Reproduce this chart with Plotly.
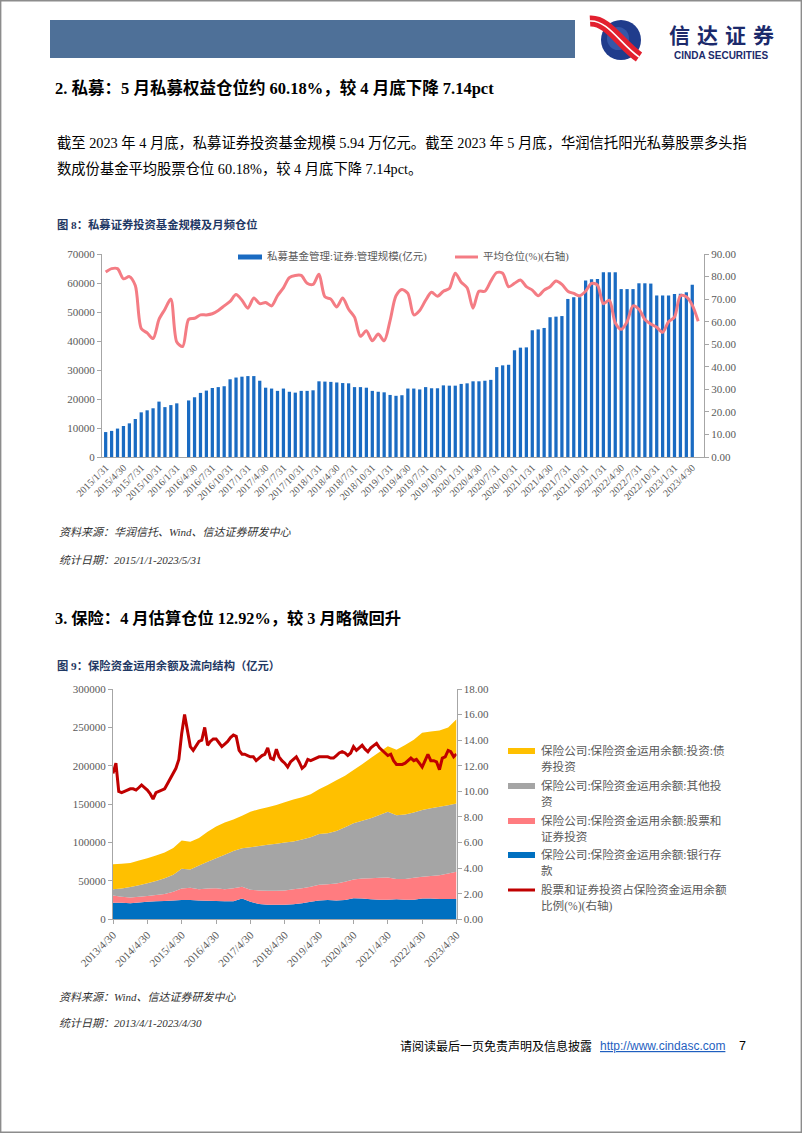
import calendar
import plotly.graph_objects as go

W, H = 802, 1133
FONT = "Liberation Serif, Noto Sans CJK SC, serif"
GRAY_TXT = "#595959"
AXIS_COL = "#A6A6A6"

# ---------------- Figure 8 data ----------------
def month_ends(y0, m0, y1, m1):
    out = []
    y, m = y0, m0
    while (y, m) <= (y1, m1):
        out.append((y, m, calendar.monthrange(y, m)[1]))
        m += 1
        if m > 12:
            m = 1
            y += 1
    return out

pm_months = month_ends(2015, 1, 2023, 5)
pm_categories = [f"{y}/{m}/{d}" for y, m, d in pm_months]

pm_scale = [
    8600, 9000, 9800, 10700, 11600, 13100, 15400, 16100, 16800, 19100,
    17200, 17900, 18500, None, 19500, 20600, 22100, 22900, 23800, 24100,
    24400, 26800, 27400, 27700, 27900, 27900, 26300, 23900, 23600, 22800,
    23600, 22500, 22200, 22800, 22800, 23000, 26100, 26000, 25900, 25700,
    25500, 25400, 24100, 24100, 23900, 22800, 22500, 22300, 21400, 21100,
    21300, 23600, 23600, 23300, 24100, 23700, 23700, 24700, 24600, 24600,
    25200, 25400, 26100, 26100, 26300, 26600, 31000, 31600, 31800, 36800,
    37700, 37800, 43700, 44000, 44500, 48200, 48400, 48600, 54500, 55100,
    55100, 60900, 61300, 61400, 63700, 63700, 63700, 57900, 57900, 57900,
    59900, 59900, 59800, 55700, 55700, 55700, 56200, 56300, 56800, 59400,
    None,
]

pm_position = [
    82.0, 83.5, 83.5, 79.0, 80.0, 76.0, 57.0, 55.0, 52.5, 61.0,
    65.5, 70.0, 51.0, 49.0, 61.0, 61.5, 63.0, 63.0, 63.5, 65.0,
    67.0, 69.0, 72.0, 69.5, 66.0, 70.5, 68.0, 68.5, 67.0, 71.5,
    75.0, 79.5, 80.5, 80.5, 77.0, 76.5, 81.0, 71.0, 70.0, 66.5,
    70.5, 65.5, 62.0, 53.5, 56.0, 51.5, 54.5, 51.5, 60.5, 71.5,
    74.3, 72.5, 63.0, 65.0, 69.5, 73.0, 71.3, 73.5, 74.7, 81.5,
    77.5, 75.0, 66.0, 73.5, 73.5, 78.0, 81.8, 81.5, 75.5, 77.0,
    78.5, 75.5, 74.0, 71.5, 74.0, 75.5, 78.0, 76.5, 73.5, 72.5,
    71.5, 73.5, 77.0, 76.2, 68.0, 69.5, 59.5, 56.6, 60.0, 67.0,
    65.5, 61.0, 59.0, 57.5, 55.3, 60.0, 62.0, 71.5, 71.0, 67.32,
    60.18,
]

pm_left_ticks = [0, 10000, 20000, 30000, 40000, 50000, 60000, 70000]
pm_right_ticks = [0, 10, 20, 30, 40, 50, 60, 70, 80, 90]

# ---------------- Figure 9 data ----------------
ins_months = month_ends(2013, 4, 2023, 4)
ins_dates = [f"{y:04d}-{m:02d}-{d:02d}" for y, m, d in ins_months]
ins_q_dates = ins_dates[::3]

ins_bank = [
    21700, 21500, 21000, 22000, 23000, 23500, 24000, 24500, 25200, 25000,
    24500, 24300, 24000, 23500, 23500, 27000, 23000, 19800, 19000, 18800,
    19000, 19500, 21000, 23000, 24500, 25000, 24500, 25000, 27500, 27000,
    26000, 25500, 25500, 26000, 25500, 25500, 27000, 27000, 26500, 26500,
    26500,
]
ins_stock = [
    9300, 8000, 7500, 7500, 7400, 8000, 9000, 11500, 14800, 16000,
    14500, 15700, 16400, 15500, 17000, 15500, 15500, 17700, 18300, 18500,
    18500, 19500, 19500, 19500, 20500, 20500, 22000, 24000, 24500, 26000,
    27500, 28500, 29000, 26500, 27000, 28500, 28500, 29500, 31000, 33000,
    35500,
]
ins_other = [
    8000, 10500, 13500, 15000, 16600, 18500, 20500, 22000, 26000, 24000,
    31000, 35000, 39100, 45000, 48500, 50000, 55500, 58000, 59700, 61200,
    62500, 62500, 63500, 64500, 66000, 66500, 68500, 71000, 73000, 75500,
    78000, 82000, 85500, 83000, 84000, 85000, 87000, 88000, 89000, 89000,
    89000,
]
ins_bond = [
    32600, 32500, 31500, 32000, 32500, 33000, 33500, 35000, 36500, 36000,
    36000, 39000, 41500, 42000, 41000, 42500, 46000, 48000, 49000, 50500,
    52500, 54500, 55000, 56000, 58500, 63000, 66000, 67000, 69500, 73500,
    78500, 82000, 85500, 85500, 90500, 95000, 100500, 100000, 99500, 101500,
    109500,
]
ins_ratio = [
    11.4, 12.2, 10.0, 9.9, 10.0, 10.1, 10.2, 10.2, 10.1, 10.3,
    10.5, 10.3, 10.1, 9.8, 9.4, 9.9, 10.0, 10.05, 10.2, 10.6,
    11.0, 11.4, 11.8, 12.5, 14.5, 16.0, 14.7, 13.5, 13.2, 13.5,
    13.9, 14.0, 15.0, 13.6, 13.9, 14.1, 14.1, 13.8, 13.5, 13.7,
    13.9, 14.2, 14.4, 14.3, 13.2, 12.9, 12.9, 12.8, 12.7, 12.7,
    12.4, 12.6, 12.8, 12.9, 13.4, 12.6, 12.5, 13.3, 12.7, 12.4,
    12.2, 11.9, 12.3, 12.5, 12.7, 12.3, 11.8, 12.0, 12.5, 12.4,
    12.5, 12.6, 12.7, 12.7, 12.7, 12.7, 12.6, 12.6, 12.8, 13.0,
    13.1, 13.0, 12.8, 13.0, 13.5, 13.2, 13.4, 13.6, 13.3, 13.1,
    13.4, 13.6, 13.75, 13.4, 13.2, 13.0, 12.8, 12.9, 12.4, 12.1,
    12.1, 12.1, 12.2, 12.4, 12.6, 12.4, 12.5, 12.2, 11.9, 12.4,
    12.9, 12.4, 12.4, 12.3, 11.7, 12.6, 12.7, 13.2, 13.1, 12.7,
    12.92,
]
ins_tick_dates = [f"{y}-04-30" for y in range(2013, 2024)]
ins_tick_labels = [f"{y}/4/30" for y in range(2013, 2024)]
ins_left_ticks = [0, 50000, 100000, 150000, 200000, 250000, 300000]
ins_right_ticks = [0, 2, 4, 6, 8, 10, 12, 14, 16, 18]

ins_names = [
    "保险公司:保险资金运用余额:投资:债券投资",
    "保险公司:保险资金运用余额:其他投资",
    "保险公司:保险资金运用余额:股票和证券投资",
    "保险公司:保险资金运用余额:银行存款",
    "股票和证券投资占保险资金运用余额比例(%)(右轴)",
]

# ---------------- helpers ----------------
def px(x):
    return x / W

def py(y):
    return 1 - y / H

C_BAR = "#1A6BC2"
C_PINK = "#F47C84"
C_YEL = "#FFC000"
C_GRAY = "#A5A5A5"
C_SALMON = "#FF7C80"
C_BLUE = "#0070C0"
C_RED = "#C00000"

fig = go.Figure()

# Figure 8 traces
fig.add_trace(go.Bar(
    x=pm_categories, y=pm_scale, marker_color=C_BAR, marker_line_width=0,
    xaxis="x", yaxis="y", name="私募基金管理:证券:管理规模(亿元)", showlegend=False,
))
fig.add_trace(go.Scatter(
    x=pm_categories, y=pm_position, mode="lines",
    line=dict(color=C_PINK, width=3, shape="spline", smoothing=0.8),
    xaxis="x", yaxis="y2", name="平均仓位(%)(右轴)", showlegend=False,
))

# Figure 9 traces
for vals, col, nm in [
    (ins_bank, C_BLUE, ins_names[3]),
    (ins_stock, C_SALMON, ins_names[2]),
    (ins_other, C_GRAY, ins_names[1]),
    (ins_bond, C_YEL, ins_names[0]),
]:
    fig.add_trace(go.Scatter(
        x=ins_q_dates, y=vals, mode="none", stackgroup="ins",
        fillcolor=col, line=dict(width=0), xaxis="x2", yaxis="y3",
        name=nm, showlegend=False,
    ))
fig.add_trace(go.Scatter(
    x=ins_dates, y=ins_ratio, mode="lines", line=dict(color=C_RED, width=3),
    xaxis="x2", yaxis="y4", name=ins_names[4], showlegend=False,
))

tickfont = dict(family=FONT, size=11, color=GRAY_TXT)
axis_common = dict(showgrid=False, zeroline=False, showline=True, automargin=False,
                   linecolor=AXIS_COL, linewidth=1, tickcolor=AXIS_COL,
                   ticks="outside", ticklen=4, tickfont=tickfont)

fig.update_layout(
    width=W, height=H, margin=dict(l=0, r=0, t=0, b=0, pad=0, autoexpand=False),
    paper_bgcolor="white", plot_bgcolor="rgba(0,0,0,0)",
    bargap=0.45, showlegend=False,
    xaxis=dict(domain=[px(102), px(704)], anchor="y", type="category",
               range=[-0.62, 100.98], tickvals=pm_categories[::3],
               ticktext=pm_categories[::3], tickangle=-45,
               **{**axis_common, "ticks": "", "tickfont": dict(family=FONT, size=10, color=GRAY_TXT)}),
    yaxis=dict(domain=[py(457), py(254)], anchor="x", range=[0, 70000],
               tickvals=pm_left_ticks, tickformat="d", **axis_common),
    yaxis2=dict(overlaying="y", side="right", anchor="x", range=[0, 90],
                tickvals=pm_right_ticks, tickformat=".2f", **axis_common),
    xaxis2=dict(domain=[px(113), px(456.5)], anchor="y3", type="date",
                range=["2013-04-30", "2023-04-30"], tickvals=ins_tick_dates,
                ticktext=ins_tick_labels, tickangle=-45,
                **{**axis_common, "tickfont": dict(family=FONT, size=11, color=GRAY_TXT)}),
    yaxis3=dict(domain=[py(919.3), py(689)], anchor="x2", range=[0, 300000],
                tickvals=ins_left_ticks, tickformat="d", **axis_common),
    yaxis4=dict(overlaying="y3", side="right", anchor="x2", range=[0, 18],
                tickvals=ins_right_ticks, tickformat=".2f", **axis_common),
)

shapes = []
ann = []

def text(x, y, s, size, color="#000000", anchor="left", family=FONT, valign="middle"):
    ann.append(dict(x=px(x), y=py(y), xref="paper", yref="paper", text=s,
                    showarrow=False, xanchor=anchor, yanchor=valign,
                    font=dict(family=family, size=size, color=color)))

def rect(x0, y0, x1, y1, fill, line=None, lw=0, layer="above"):
    shapes.append(dict(type="rect", xref="paper", yref="paper",
                       x0=px(x0), x1=px(x1), y0=py(y1), y1=py(y0),
                       fillcolor=fill, line=dict(color=line or fill, width=lw),
                       layer=layer))

def hline(x0, x1, y, color, width):
    shapes.append(dict(type="line", xref="paper", yref="paper",
                       x0=px(x0), x1=px(x1), y0=py(y), y1=py(y),
                       line=dict(color=color, width=width)))

def path(pts_cmd, color, width, fill=None):
    s = ""
    for cmd, nums in pts_cmd:
        coords = []
        for i in range(0, len(nums), 2):
            coords.append(f"{px(nums[i]):.5f},{py(nums[i+1]):.5f}")
        s += cmd + " " + " ".join(coords) + " "
    shapes.append(dict(type="path", xref="paper", yref="paper", path=s.strip(),
                       line=dict(color=color, width=width),
                       fillcolor=fill if fill else "rgba(0,0,0,0)"))

# page border
shapes.append(dict(type="rect", xref="paper", yref="paper", x0=0.0008, x1=0.9992,
                   y0=0.0006, y1=0.9994, line=dict(color="#8C8C8C", width=1.5),
                   fillcolor="rgba(0,0,0,0)", layer="above"))

# header bar
rect(50, 20, 575, 58, "#4E7098")

# logo
shapes.append(dict(type="circle", xref="paper", yref="paper",
                   x0=px(601), x1=px(641), y0=py(60), y1=py(20),
                   fillcolor="#203C8C", line=dict(width=0)))
shapes.append(dict(type="circle", xref="paper", yref="paper",
                   x0=px(607), x1=px(629), y0=py(50), y1=py(27),
                   fillcolor="rgba(80,120,200,0.45)", line=dict(width=0)))
path([("M", [590, 21]), ("C", [608, 20, 620, 44, 639, 57])], "#E2202F", 11)
path([("M", [590, 21]), ("C", [608, 20, 620, 44, 639, 57])], "#FFFFFF", 1.6)
for cx, ch in zip([679, 707, 735, 763], "信达证券"):
    text(cx, 33.5, f"<b>{ch}</b>", 21, "#1C2A6B", anchor="center",
         family="Noto Sans CJK SC, sans-serif")
text(721, 56, "<b>CINDA SECURITIES</b>", 10, "#1C2A6B", anchor="center",
     family="Liberation Sans, Arial, sans-serif")

# headings & paragraph
text(53, 88, "<b>2. 私募：5 月私募权益仓位约 60.18%，较 4 月底下降 7.14pct</b>", 16.5)
text(55, 143, "截至 2023 年 4 月底，私募证券投资基金规模 5.94 万亿元。截至 2023 年 5 月底，华润信托阳光私募股票多头指", 14.3)
text(55, 168, "数成份基金平均股票仓位 60.18%，较 4 月底下降 7.14pct。", 14.3)
text(55, 225, "<b>图 8：私募证券投资基金规模及月频仓位</b>", 11.3, "#1F3864")

# chart 1 legend
rect(238, 254.5, 262, 259.5, C_BAR)
text(265, 257, "私募基金管理:证券:管理规模(亿元)", 10.5, GRAY_TXT)
hline(455, 478, 257, C_PINK, 3)
text(481, 257, "平均仓位(%)(右轴)", 10.5, GRAY_TXT)

# sources 1
text(57, 532, "<i>资料来源：华润信托、Wind、信达证券研发中心</i>", 11, "#333333")
text(57, 560, "<i>统计日期：2015/1/1-2023/5/31</i>", 11, "#333333")

text(53, 618, "<b>3. 保险：4 月估算仓位 12.92%，较 3 月略微回升</b>", 16.3)
text(55, 665, "<b>图 9：保险资金运用余额及流向结构（亿元）</b>", 11.3, "#1F3864")

# chart 2 legend
leg_rows = [
    (751, C_YEL, "保险公司:保险资金运用余额:投资:债", "券投资", "rect"),
    (786, C_GRAY, "保险公司:保险资金运用余额:其他投", "资", "rect"),
    (821, C_SALMON, "保险公司:保险资金运用余额:股票和", "证券投资", "rect"),
    (855, C_BLUE, "保险公司:保险资金运用余额:银行存", "款", "rect"),
    (890, C_RED, "股票和证券投资占保险资金运用余额", "比例(%)(右轴)", "line"),
]
for yy, col, l1, l2, kind in leg_rows:
    if kind == "rect":
        rect(508, yy - 3, 535, yy + 3, col)
    else:
        hline(508, 535, yy, col, 3)
    text(539, yy, l1, 11.6, GRAY_TXT)
    text(539, yy + 16, l2, 11.6, GRAY_TXT)

text(57, 997, "<i>资料来源：Wind、信达证券研发中心</i>", 11, "#333333")
text(57, 1023, "<i>统计日期：2013/4/1-2023/4/30</i>", 11, "#333333")

# footer
text(398, 1046, "请阅读最后一页免责声明及信息披露", 12, "#000000")
text(598, 1046, "<u>http://www.cindasc.com</u>", 12, "#1F5FBF",
     family="Liberation Sans, Arial, sans-serif")
text(737, 1046, "7", 12.5, "#000000", family="Liberation Sans, Arial, sans-serif")

fig.update_layout(shapes=shapes, annotations=ann)
fig.write_html("out.html", config={"displayModeBar": False},
               post_script="document.body.style.margin='0';document.body.style.padding='0';")
